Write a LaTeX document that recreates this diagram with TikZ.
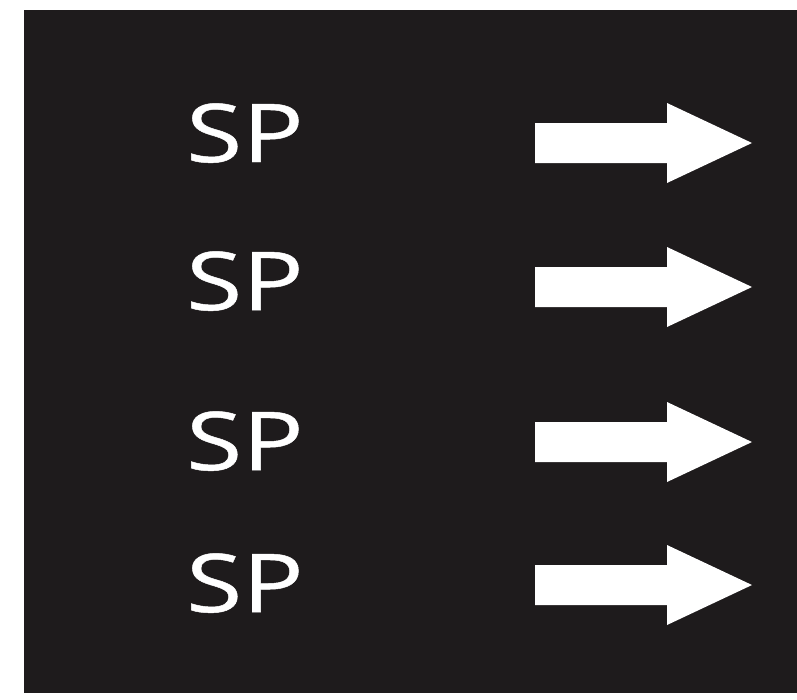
\documentclass[tikz,border=0pt]{standalone}
\usepackage{fontspec}
\setmainfont{Open Sans}
\newfontfamily\spfont[FakeStretch=1.26,FakeBold=0.6]{Open Sans}
\definecolor{panel}{RGB}{30,27,28}
\begin{document}
\begin{tikzpicture}[x=1pt,y=-1pt,
  label/.style={text=white,inner sep=0pt,anchor=base west,font=\spfont\fontsize{81}{81}\selectfont},
  arrowshape/.style={fill=white}]
\useasboundingbox (0,0) rectangle (797,699);
\fill[white] (0,0) rectangle (797,699);
\fill[panel] (24,10) rectangle (797,693);
\foreach \b/\c [count=\i] in {162/143, 310/287, 470/442, 612/585}{
  \node[label] (sp\i) at (186,\b) {SP};
  \fill[arrowshape] (535,\c-20) -- (667,\c-20) -- (667,\c-40) -- (752,\c) -- (667,\c+40) -- (667,\c+20) -- (535,\c+20) -- cycle;
}
\end{tikzpicture}
\end{document}
